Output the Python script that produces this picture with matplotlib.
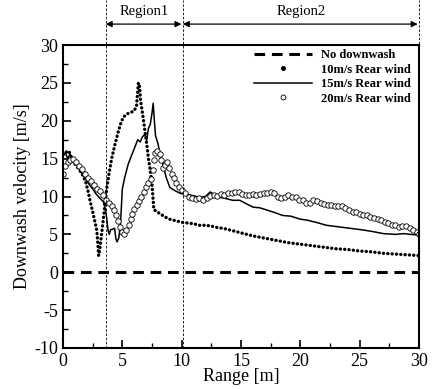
import matplotlib
matplotlib.use("Agg")
import matplotlib.pyplot as plt
from matplotlib.lines import Line2D

plt.rcParams['font.family'] = 'serif'
plt.rcParams['font.serif'] = ['Liberation Serif', 'DejaVu Serif']
plt.rcParams['axes.unicode_minus'] = False

# 10 m/s rear wind (dotted)
x10 = [0, 0.3, 0.5, 0.8, 1.0, 1.3, 1.6, 1.9, 2.1, 2.3, 2.5, 2.7, 2.85, 2.95, 3.0, 3.1,
       3.25, 3.4, 3.55, 3.7, 3.9, 4.1, 4.4, 4.7, 4.9, 5.1, 5.4, 5.7, 6.0, 6.2, 6.35, 6.45,
       6.55, 6.7, 6.9, 7.05, 7.2, 7.35, 7.5, 7.6, 7.65, 7.9, 8.2, 8.6, 9.0, 9.5, 10.0, 10.5,
       11.0, 11.5, 12.0, 12.5, 13.0, 13.5, 14.0, 15.0, 16.0, 17.0, 18.0, 19.0, 20.0, 21.0,
       22.0, 23.0, 24.0, 25.0, 26.0, 27.0, 28.0, 29.0, 30.0]
y10 = [15.5, 15.9, 16.0, 14.8, 14.3, 13.7, 13.0, 12.0, 10.8, 9.3, 8.0, 6.6, 5.5, 3.5, 2.2, 3.0,
       5.0, 7.0, 9.2, 11.2, 13.2, 15.0, 17.0, 18.8, 19.8, 20.5, 20.9, 21.1, 21.3, 22.0, 25.0, 24.5,
       22.5, 21.0, 18.7, 17.0, 15.0, 13.5, 11.5, 9.5, 8.3, 8.0, 7.7, 7.3, 7.0, 6.8, 6.6, 6.5,
       6.4, 6.2, 6.2, 6.1, 5.9, 5.8, 5.6, 5.2, 4.8, 4.5, 4.2, 3.9, 3.7, 3.5,
       3.3, 3.1, 3.0, 2.8, 2.7, 2.5, 2.4, 2.3, 2.2]

# 15 m/s rear wind (solid)
x15 = [0, 0.2, 0.4, 0.6, 0.8, 1.0, 1.3, 1.6, 1.9, 2.2, 2.5, 2.8, 3.1, 3.4, 3.55, 3.7, 3.8,
       3.9, 4.0, 4.2, 4.35, 4.45, 4.55, 4.7, 4.85, 5.0, 5.2, 5.5, 5.8, 6.1, 6.3, 6.5, 6.7,
       6.9, 7.05, 7.2, 7.35, 7.5, 7.6, 7.7, 7.8, 8.0, 8.2, 8.4, 8.7, 9.0, 9.4, 9.9, 10.4,
       11.0, 11.5, 12.0, 12.4, 12.8, 13.2, 13.8, 14.3, 14.9, 15.5, 16.0, 16.6, 17.2, 17.8,
       18.5, 19.2, 20.0, 20.5, 21.3, 22.2, 23.2, 24.2, 25.2, 26.0, 27.0, 28.0, 28.7, 29.3, 30.0]
y15 = [15.3, 15.8, 15.0, 15.6, 14.9, 14.5, 13.8, 13.0, 12.3, 11.6, 11.0, 10.3, 9.8, 9.3, 8.5, 7.0, 5.5,
       5.0, 5.6, 5.7, 5.8, 4.5, 4.0, 4.5, 6.5, 11.0, 12.5, 14.3, 15.5, 16.7, 17.5, 17.2, 17.9,
       18.2, 17.4, 19.0, 19.5, 21.0, 22.3, 20.0, 18.0, 17.0, 15.5, 14.4, 12.5, 11.2, 10.8, 10.4, 10.3,
       10.1, 9.9, 10.0, 10.6, 10.2, 9.9, 9.7, 9.5, 9.5, 9.0, 8.6, 8.5, 8.2, 7.9,
       7.5, 7.4, 7.0, 6.9, 6.6, 6.2, 6.0, 5.8, 5.6, 5.4, 5.1, 5.0, 5.1, 5.0, 4.9]

# 20 m/s rear wind (open circles)
x20 = [0.0, 0.2, 0.4, 0.6, 0.85, 1.1, 1.35, 1.6, 1.85, 2.1, 2.35, 2.6, 2.85, 3.1, 3.35, 3.6,
       3.85, 4.1, 4.3, 4.5, 4.65, 4.8, 4.95, 5.15, 5.35, 5.55, 5.7, 5.85, 6.0, 6.2, 6.4, 6.6,
       6.8, 7.0, 7.2, 7.4, 7.55, 7.65, 7.75, 7.95, 8.15, 8.3, 8.45, 8.6, 8.8, 8.95, 9.15, 9.35,
       9.55, 9.75, 10.0, 10.3, 10.6, 10.9, 11.2, 11.5, 11.8, 12.1, 12.4, 12.7, 13.0, 13.3,
       13.6, 13.9, 14.2, 14.5, 14.8, 15.1, 15.4, 15.7, 16.0, 16.3, 16.6, 16.9, 17.2, 17.5,
       17.8, 18.1, 18.4, 18.7, 19.0, 19.3, 19.6, 19.9, 20.2, 20.5, 20.8, 21.1, 21.4, 21.7,
       22.0, 22.3, 22.6, 22.9, 23.2, 23.5, 23.8, 24.1, 24.4, 24.7, 25.0, 25.3, 25.6, 25.9,
       26.2, 26.5, 26.8, 27.1, 27.4, 27.7, 28.0, 28.3, 28.6, 28.9, 29.2, 29.5, 29.8, 30.0]
y20 = [13.0, 14.0, 14.5, 14.8, 14.9, 14.5, 14.0, 13.6, 13.0, 12.4, 12.0, 11.5, 11.0, 10.7, 10.2, 9.6,
       9.2, 8.8, 8.2, 7.5, 6.8, 6.0, 5.3, 5.1, 5.6, 6.2, 7.0, 7.7, 8.3, 8.9, 9.4, 10.0,
       10.6, 11.2, 11.8, 12.3, 13.5, 14.8, 15.8, 16.0, 15.6, 14.8, 13.8, 14.2, 14.5, 13.8, 13.0, 12.4,
       11.8, 11.3, 10.8, 10.4, 10.0, 9.8, 9.7, 9.8, 9.6, 9.8, 10.1, 10.2, 10.1, 10.3,
       10.2, 10.4, 10.5, 10.6, 10.6, 10.3, 10.2, 10.2, 10.3, 10.2, 10.3, 10.4, 10.5, 10.6,
       10.4, 10.0, 9.8, 10.0, 10.2, 10.0, 9.9, 9.6, 9.5, 9.2, 9.2, 9.6, 9.4, 9.1,
       9.0, 8.9, 8.9, 8.8, 8.8, 8.7, 8.5, 8.2, 8.0, 7.9, 7.7, 7.6, 7.5, 7.3,
       7.2, 7.0, 6.9, 6.7, 6.5, 6.3, 6.2, 6.0, 6.1, 6.1, 5.9, 5.6, 5.3, 5.0]

region_bounds = [3.6, 10.1, 30]
region_labels = ["Region1", "Region2"]

fig = plt.figure(figsize=(4.32, 3.89), dpi=100)
ax = fig.add_axes([0.1458, 0.1054, 0.8242, 0.7789])

ax.plot([0, 30], [0, 0], color='black', lw=2.2, dashes=(3.5, 2.2))
ax.plot(x10, y10, color='black', lw=2.4, ls=(0, (0.05, 1.25)), dash_capstyle='round')
ax.plot(x15, y15, color='black', lw=1.1)
ax.plot(x20, y20, ls='none', marker='o', ms=3.9, mfc='white', mec='black', mew=0.6)

ax.set_xlim(0, 30)
ax.set_ylim(-10, 30)
ax.set_xticks(range(0, 31, 5))
ax.set_yticks(range(-10, 31, 5))
ax.set_xticks([2.5 + 5 * i for i in range(6)], minor=True)
ax.set_yticks([-7.5 + 5 * i for i in range(8)], minor=True)
ax.tick_params(which='both', direction='in', labelsize=13)
ax.tick_params(which='major', length=6, width=1.2)
ax.tick_params(which='minor', length=3.5, width=1)
for s in ax.spines.values():
    s.set_linewidth(1.5)
ax.set_xlabel("Range [m]", fontsize=13, labelpad=-1)
ax.set_ylabel("Downwash velocity [m/s]", fontsize=13, labelpad=2)

# region markers
for xb in region_bounds:
    ax.axvline(xb, ymin=0, ymax=1.15, color='black', lw=0.6, ls=(0, (3, 2)), clip_on=False)
for i, lab in enumerate(region_labels):
    x0, x1 = region_bounds[i], region_bounds[i + 1]
    ax.annotate("", xy=(x1, 1.069), xytext=(x0, 1.069),
                xycoords=('data', 'axes fraction'), textcoords=('data', 'axes fraction'),
                arrowprops=dict(arrowstyle='<|-|>', color='black', lw=0.9,
                                mutation_scale=9, shrinkA=0, shrinkB=1))
    ax.text((x0 + x1) / 2, 1.112, lab, transform=ax.get_xaxis_transform(),
            ha='center', va='center', fontsize=10.5)

handles = [
    Line2D([], [], color='black', lw=2.2, dashes=(3.5, 2.2)),
    Line2D([], [], ls='none', marker='o', ms=2.6, color='black'),
    Line2D([], [], color='black', lw=1.1),
    Line2D([], [], ls='none', marker='o', ms=3.5, mfc='white', mec='black', mew=0.6),
]
labels = ["No downwash", "10m/s Rear wind", "15m/s Rear wind", "20m/s Rear wind"]
ax.legend(handles, labels, loc='upper right', bbox_to_anchor=(1.0, 1.015), frameon=False,
          prop={'weight': 'bold', 'size': 9}, handlelength=4.6, handletextpad=0.7,
          labelspacing=0.2, borderaxespad=0.3)

fig.savefig("out.png", dpi=100)
